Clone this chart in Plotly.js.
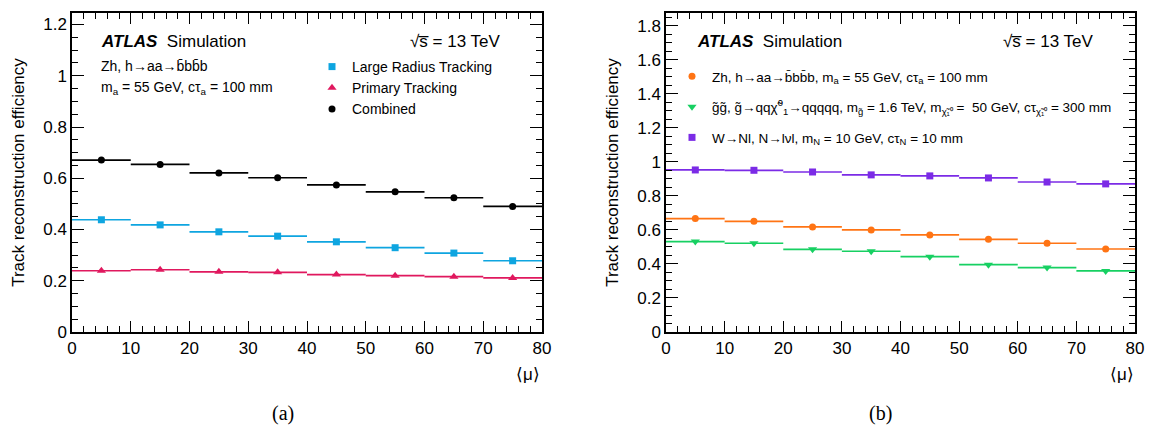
<!DOCTYPE html>
<html>
<head>
<meta charset="utf-8">
<script src="https://cdn.plot.ly/plotly-3.0.1.min.js"></script>
<style>html,body{margin:0;padding:0;background:#fff}#chart{width:1149px;height:436px}</style>
</head>
<body>
<div id="chart"></div>
<script>
// ---- data ----
const muBins = [5, 15, 25, 35, 45, 55, 65, 75];
const halfBin = [5, 5, 5, 5, 5, 5, 5, 5];

// panel (a)
const lrtEff      = [0.438, 0.418, 0.391, 0.374, 0.352, 0.329, 0.308, 0.278];
const primaryEff  = [0.239, 0.243, 0.235, 0.233, 0.224, 0.220, 0.216, 0.211];
const combinedEff = [0.671, 0.654, 0.621, 0.602, 0.574, 0.547, 0.524, 0.490];

// panel (b)
const zhEff     = [0.667, 0.651, 0.618, 0.600, 0.571, 0.545, 0.522, 0.488];
const gluinoEff = [0.532, 0.522, 0.486, 0.475, 0.443, 0.396, 0.379, 0.359];
const hnlEff    = [0.953, 0.951, 0.941, 0.924, 0.918, 0.906, 0.882, 0.871];

const names = {
  lrt: 'Large Radius Tracking',
  primary: 'Primary Tracking',
  combined: 'Combined',
  zh: 'Zh, h\u2192aa\u2192b\u0304bb\u0304b, m<sub>a</sub> = 55 GeV, c\u03c4<sub>a</sub> = 100 mm',
  gluino: 'g\u0303g\u0303, g\u0303\u2192qq\u03c7\u0303<sup>0</sup><sub>1</sub>\u2192qqqqq, m<sub>g\u0303</sub> = 1.6 TeV, m<sub>\u03c7\u0303\u2081\u2070</sub> =  50 GeV, c\u03c4<sub>\u03c7\u0303\u2081\u2070</sub> = 300 mm',
  hnl: 'W\u2192Nl, N\u2192l\u03bdl, m<sub>N</sub> = 10 GeV, c\u03c4<sub>N</sub> = 10 mm'
};

const colors = {
  lrt: '#0ea5e0', primary: '#e0185e', combined: '#000000',
  zh: '#ff7414', gluino: '#17d062', hnl: '#7b2be6'
};

function series(y, key, symbol, size, xa, ya, legend, group) {
  return {
    type: 'scatter', mode: 'markers',
    x: muBins, y: y, name: names[key],
    xaxis: xa, yaxis: ya, legend: legend, legendgroup: group,
    marker: {color: colors[key], symbol: symbol, size: size},
    error_x: {type: 'data', array: halfBin, visible: true, width: 0, thickness: 1.7, color: colors[key]},
    cliponaxis: false
  };
}

const traces = [
  series(lrtEff, 'lrt', 'square', 7, 'x', 'y', 'legend', 'g1'),
  series(primaryEff, 'primary', 'triangle-up', 8, 'x', 'y', 'legend', 'g2'),
  series(combinedEff, 'combined', 'circle', 7, 'x', 'y', 'legend', 'g3'),
  series(zhEff, 'zh', 'circle', 7, 'x2', 'y2', 'legend2', 'h1'),
  series(gluinoEff, 'gluino', 'triangle-down', 8, 'x2', 'y2', 'legend2', 'h2'),
  series(hnlEff, 'hnl', 'square', 7, 'x2', 'y2', 'legend2', 'h3')
];

const W = 1149, H = 436;
const SANS = 'Liberation Sans, Arial, Helvetica, sans-serif';
const tickFont = {family: SANS, size: 17, color: '#000'};
function xAxis(domain, anchor) {
  return {
    domain: domain, anchor: anchor, range: [0, 80], dtick: 10, tick0: 0,
    ticks: 'inside', ticklen: 11, tickwidth: 1, tickcolor: '#000',
    minor: {dtick: 2, ticks: 'inside', ticklen: 6, tickwidth: 1, tickcolor: '#000'},
    showline: true, linecolor: '#000', linewidth: 1.5, mirror: 'allticks',
    showgrid: false, zeroline: false, tickfont: tickFont, fixedrange: true
  };
}
function yAxis(range, anchor) {
  return {
    anchor: anchor, range: range, dtick: 0.2, tick0: 0,
    ticks: 'inside', ticklen: 12, tickwidth: 1, tickcolor: '#000',
    minor: {dtick: 0.05, ticks: 'inside', ticklen: 6, tickwidth: 1, tickcolor: '#000'},
    showline: true, linecolor: '#000', linewidth: 1.5, mirror: 'allticks',
    showgrid: false, zeroline: false, tickfont: tickFont, fixedrange: true,
    title: {text: 'Track reconstruction efficiency', standoff: 14,
            font: {family: SANS, size: 17, color: '#000'}}
  };
}

function ann(text, x, y, size, xanchor, extra) {
  return Object.assign({text: text, x: x / W, y: 1 - y / H, xref: 'paper', yref: 'paper',
    xanchor: xanchor, yanchor: 'middle', showarrow: false,
    font: {family: SANS, size: size, color: '#000'}}, extra || {});
}
const SERIF = {family: 'Liberation Serif, Times New Roman, serif', size: 20, color: '#000'};

const layout = {
  width: W, height: H,
  margin: {l: 0, r: 0, t: 0, b: 0},
  paper_bgcolor: '#fff', plot_bgcolor: '#fff',
  font: {family: SANS, color: '#000'},
  xaxis: xAxis([72 / W, 542 / W], 'y'),
  yaxis: Object.assign(yAxis([0, 1.245], 'x'), {domain: [1 - 332 / H, 1 - 13 / H]}),
  xaxis2: xAxis([666 / W, 1135 / W], 'y2'),
  yaxis2: Object.assign(yAxis([0, 1.876], 'x2'), {domain: [1 - 332 / H, 1 - 13 / H]}),
  legend: {x: 312 / W, y: 1 - 51 / H, xanchor: 'left', yanchor: 'top',
    bgcolor: 'rgba(0,0,0,0)', borderwidth: 0, traceorder: 'grouped', tracegroupgap: 0,
    font: {family: SANS, size: 14, color: '#000'}},
  legend2: {x: 672 / W, y: 1 - 61 / H, xanchor: 'left', yanchor: 'top',
    bgcolor: 'rgba(0,0,0,0)', borderwidth: 0, traceorder: 'grouped', tracegroupgap: 10,
    font: {family: SANS, size: 13.5, color: '#000'}},
  showlegend: true,
  annotations: [
    ann('<b><i>ATLAS</i></b>  Simulation', 99, 42, 17, 'left'),
    ann('\u221as\u0305 = 13 TeV', 502, 42, 17, 'right'),
    ann('Zh, h\u2192aa\u2192b\u0304bb\u0304b', 99, 66, 14, 'left'),
    ann('m<sub>a</sub> = 55 GeV, c\u03c4<sub>a</sub> = 100 mm', 99, 88, 14, 'left'),
    ann('<b><i>ATLAS</i></b>  Simulation', 695, 42, 17, 'left'),
    ann('\u221as\u0305 = 13 TeV', 1095, 42, 17, 'right'),
    ann('\u27e8\u03bc\u27e9', 542, 374, 17, 'right'),
    ann('\u27e8\u03bc\u27e9', 1136, 374, 17, 'right'),
    ann('(a)', 283, 413, 20, 'center', {font: SERIF}),
    ann('(b)', 880, 413, 20, 'center', {font: SERIF})
  ]
};

Plotly.newPlot('chart', traces, layout, {displayModeBar: false});
</script>
</body>
</html>
